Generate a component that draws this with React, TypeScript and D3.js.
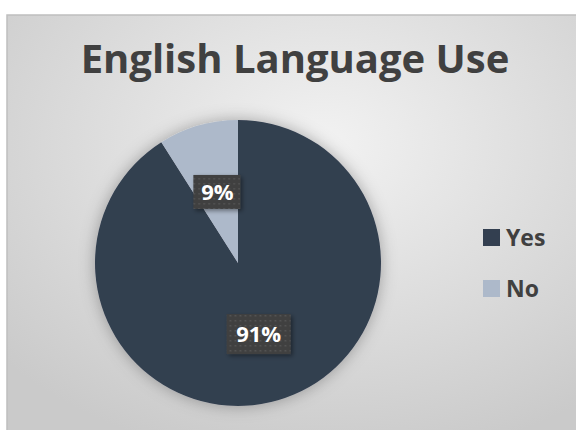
import React from 'react';
import * as d3 from 'd3';

const categories = ['Yes', 'No'];
const values = [91, 9];
const colors = ['#333F50', '#ADB9CA'];
const title = 'English Language Use';

const W = 576;
const H = 430;

const App: React.FC = () => {
  const ref = React.useRef<SVGSVGElement>(null);

  React.useEffect(() => {
    const svg = d3.select(ref.current);
    svg.selectAll('*').remove();

    const defs = svg.append('defs');
    const bg = defs
      .append('radialGradient')
      .attr('id', 'bg')
      .attr('cx', '55%')
      .attr('cy', '30%')
      .attr('r', '75%');
    bg.append('stop').attr('offset', '0%').attr('stop-color', '#f2f2f2');
    bg.append('stop').attr('offset', '100%').attr('stop-color', '#cacaca');

    const sh = defs.append('filter').attr('id', 'pieShadow').attr('x', '-20%').attr('y', '-20%').attr('width', '140%').attr('height', '140%');
    sh.append('feDropShadow')
      .attr('dx', 0)
      .attr('dy', 0)
      .attr('stdDeviation', 8)
      .attr('flood-color', '#000')
      .attr('flood-opacity', 0.3);

    const lsh = defs.append('filter').attr('id', 'lblShadow').attr('x', '-30%').attr('y', '-30%').attr('width', '160%').attr('height', '160%');
    lsh.append('feDropShadow')
      .attr('dx', 2)
      .attr('dy', 2)
      .attr('stdDeviation', 2)
      .attr('flood-color', '#000')
      .attr('flood-opacity', 0.4);

    const pat = defs
      .append('pattern')
      .attr('id', 'dots')
      .attr('width', 5)
      .attr('height', 5)
      .attr('patternUnits', 'userSpaceOnUse');
    pat.append('rect').attr('width', 5).attr('height', 5).attr('fill', '#404040');
    pat.append('rect').attr('x', 1).attr('y', 1).attr('width', 1.5).attr('height', 1.5).attr('fill', '#575757');

    // chart area
    svg
      .append('rect')
      .attr('x', 7)
      .attr('y', 15)
      .attr('width', W)
      .attr('height', H)
      .attr('fill', 'url(#bg)')
      .attr('stroke', '#bfbfbf')
      .attr('stroke-width', 1.5);

    svg
      .append('text')
      .attr('x', 295)
      .attr('y', 73)
      .attr('text-anchor', 'middle')
      .attr('font-family', 'Open Sans, Liberation Sans, sans-serif')
      .attr('font-weight', 700)
      .attr('font-size', 40)
      .attr('fill', '#404040')
      .text(title);

    const cx = 238;
    const cy = 263;
    const R = 143;

    const pie = d3.pie<number>().sort(null).value((d) => d);
    const arcs = pie(values);
    const arc = d3.arc<d3.PieArcDatum<number>>().innerRadius(0).outerRadius(R);
    const labelArc = d3.arc<d3.PieArcDatum<number>>().innerRadius(74).outerRadius(74);

    const g = svg.append('g').attr('transform', `translate(${cx},${cy})`);
    g.append('g')
      .attr('filter', 'url(#pieShadow)')
      .selectAll('path')
      .data(arcs)
      .enter()
      .append('path')
      .attr('d', arc)
      .attr('fill', (_, i) => colors[i]);

    const total = d3.sum(values);
    const lbl = g
      .selectAll('g.lbl')
      .data(arcs)
      .enter()
      .append('g')
      .attr('class', 'lbl')
      .attr('transform', (d) => {
        const [x, y] = labelArc.centroid(d);
        return `translate(${x},${y})`;
      });

    lbl
      .append('rect')
      .attr('x', (d) => (d.data >= 10 ? -32 : -24))
      .attr('y', (d) => (d.data >= 10 ? -20 : -17))
      .attr('width', (d) => (d.data >= 10 ? 64 : 47))
      .attr('height', (d) => (d.data >= 10 ? 40 : 34))
      .attr('fill', 'url(#dots)')
      .attr('filter', 'url(#lblShadow)');

    lbl
      .append('text')
      .attr('text-anchor', 'middle')
      .attr('dy', '0.36em')
      .attr('font-family', 'Open Sans, Liberation Sans, sans-serif')
      .attr('font-weight', 700)
      .attr('font-size', 22)
      .attr('fill', '#ffffff')
      .text((d) => `${Math.round((d.data / total) * 100)}%`);

    const legend = svg
      .selectAll('g.leg')
      .data(categories)
      .enter()
      .append('g')
      .attr('class', 'leg')
      .attr('transform', (_, i) => `translate(483,${229 + i * 51})`);
    legend
      .append('rect')
      .attr('width', 17)
      .attr('height', 17)
      .attr('fill', (_, i) => colors[i]);
    legend
      .append('text')
      .attr('x', 23)
      .attr('y', 8.5)
      .attr('dy', '0.36em')
      .attr('font-family', 'Open Sans, Liberation Sans, sans-serif')
      .attr('font-weight', 700)
      .attr('font-size', 23)
      .attr('fill', '#404040')
      .text((d) => d);
  }, []);

  return (
    <svg
      ref={ref}
      width={W}
      height={H}
      style={{ position: 'absolute', left: 0, top: 0, background: '#fff' }}
    />
  );
};

export default App;
